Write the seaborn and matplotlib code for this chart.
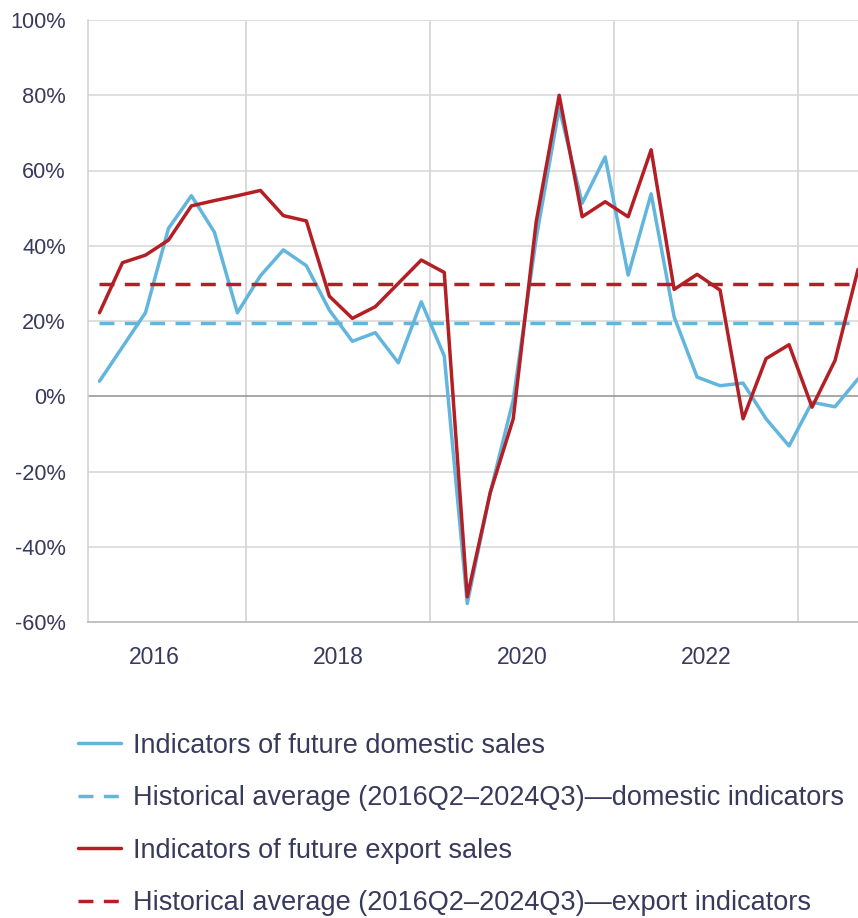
import numpy as np
import pandas as pd
import matplotlib
matplotlib.use("Agg")
import matplotlib.pyplot as plt
import seaborn as sns
from matplotlib.lines import Line2D
from matplotlib.ticker import FixedLocator, FuncFormatter

# ---------------- data ----------------
quarters = ["2016Q2", "2016Q3", "2016Q4", "2017Q1", "2017Q2", "2017Q3", "2017Q4",
            "2018Q1", "2018Q2", "2018Q3", "2018Q4", "2019Q1", "2019Q2", "2019Q3",
            "2019Q4", "2020Q1", "2020Q2", "2020Q3", "2020Q4", "2021Q1", "2021Q2",
            "2021Q3", "2021Q4", "2022Q1", "2022Q2", "2022Q3", "2022Q4", "2023Q1",
            "2023Q2", "2023Q3", "2023Q4", "2024Q1", "2024Q2", "2024Q3"]
domestic = [4.0, 13.1, 22.2, 44.6, 53.3, 43.6, 22.2, 32.0, 38.9, 34.7, 22.9, 14.6,
            16.9, 8.9, 25.1, 10.7, -55.1, -25.6, -1.0, 42.0, 76.6, 51.3, 63.6, 32.2,
            53.8, 21.1, 5.1, 2.8, 3.5, -6.0, -13.2, -1.6, -2.8, 4.6]
export = [22.2, 35.5, 37.5, 41.5, 50.6, 52.0, 53.3, 54.7, 48.0, 46.6, 26.6, 20.7,
          23.8, 30.0, 36.2, 32.9, -53.3, -25.6, -6.0, 46.4, 80.0, 47.7, 51.7, 47.7,
          65.5, 28.4, 32.4, 28.2, -6.0, 10.0, 13.7, -2.9, 9.5, 33.7]
domestic_avg = 19.4
export_avg = 29.9
year_labels = ["2016", "2018", "2020", "2022"]
yticks = [-60, -40, -20, 0, 20, 40, 60, 80, 100]

series_names = ["Indicators of future domestic sales",
                "Historical average (2016Q2\u20132024Q3)\u2014domestic indicators",
                "Indicators of future export sales",
                "Historical average (2016Q2\u20132024Q3)\u2014export indicators"]

# quarter -> fractional year at mid-quarter
def qpos(q):
    return int(q[:4]) + (int(q[-1]) - 1) * 0.25 + 0.125

xpos = [qpos(q) for q in quarters]

df = pd.DataFrame({
    "x": xpos * 4,
    "value": domestic + [domestic_avg] * len(xpos) + export + [export_avg] * len(xpos),
    "series": sum([[s] * len(xpos) for s in series_names], []),
})

# ---------------- style ----------------
sns.set_theme(style="white")
plt.rcParams["font.family"] = ["Liberation Sans", "DejaVu Sans"]
text_color = "#383a5c"
blue = "#62b5dd"
red = "#b31f24"

W, H = 858, 918
fig = plt.figure(figsize=(W / 100, H / 100), dpi=100)
ax = fig.add_axes([88 / W, 1 - 622 / H, (858 - 88) / W, (622 - 20) / H])

palette = {series_names[0]: blue, series_names[1]: blue,
           series_names[2]: red, series_names[3]: red}
dash_pat = (4.3, 3.0)
dashes = {series_names[0]: "", series_names[1]: dash_pat,
          series_names[2]: "", series_names[3]: dash_pat}

# horizontal grid lines
for v in yticks:
    if v == 0:
        ax.axhline(v, color="#8f8f8f", lw=1.1, zorder=1)
    elif v == -60:
        pass
    else:
        ax.axhline(v, color="#d6d6d6", lw=1.1, zorder=1)

sns.lineplot(data=df, x="x", y="value", hue="series", style="series",
             palette=palette, dashes=dashes, linewidth=2.5, ax=ax,
             legend=False, zorder=3)

ax.set_xlim(2016.25, 2024.625)
ax.set_ylim(-60, 100)

ax.yaxis.set_major_locator(FixedLocator(yticks))
ax.yaxis.set_major_formatter(FuncFormatter(lambda v, p: f"{int(v)}%"))

off = -0.03
ax.set_xticks([int(y) + 1.0 + off for y in year_labels])
ax.set_xticklabels(year_labels)
ax.set_xticks([int(y) + 2.0 + off for y in year_labels], minor=True)
ax.grid(False)
ax.xaxis.grid(True, which="minor", color="#cfcfcf", lw=1.1, zorder=1)

ax.tick_params(axis="both", which="both", length=0)
ax.tick_params(axis="y", labelsize=15.7, labelcolor=text_color, pad=16)
ax.tick_params(axis="x", labelsize=16.5, labelcolor=text_color, pad=17)
ax.set_xlabel("")
ax.set_ylabel("")

for s in ["top", "right"]:
    ax.spines[s].set_visible(False)
ax.spines["left"].set_color("#cfcfcf")
ax.spines["left"].set_linewidth(1.1)
ax.spines["bottom"].set_color("#bdbdbd")
ax.spines["bottom"].set_linewidth(1.3)

# legend
handles = [
    Line2D([], [], color=blue, lw=2.5),
    Line2D([], [], color=blue, lw=2.5, dashes=dash_pat),
    Line2D([], [], color=red, lw=2.5),
    Line2D([], [], color=red, lw=2.5, dashes=dash_pat),
]
leg = fig.legend(handles, series_names, loc="upper left",
                 bbox_to_anchor=(67 / W, 1 - 722 / H), frameon=False,
                 fontsize=19.5, labelcolor=text_color, handlelength=1.6,
                 handletextpad=0.42, labelspacing=0.98, borderaxespad=0)

fig.savefig("out.png", dpi=100)
